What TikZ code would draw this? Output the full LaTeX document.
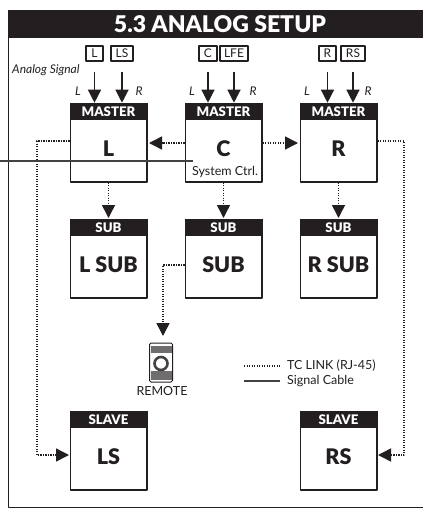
\documentclass[tikz,border=0pt]{standalone}
\usepackage{fontspec}
\setmainfont{Lato}[BoldFont={Lato Black}]
\usetikzlibrary{arrows.meta,calc}
\definecolor{ink}{HTML}{231F20}
\tikzset{
	unitbox/.style={draw=ink,line width=1.5pt,fill=white,minimum width=76.5pt,minimum height=77.5pt,inner sep=0pt},
	hdrbox/.style={fill=ink,text=white,font=\fontsize{13.2}{13.2}\selectfont\bfseries,minimum width=78pt,minimum height=17.5pt,inner sep=0pt},
	unitname/.style={text=ink,font=\fontsize{21.5}{21.5}\selectfont\bfseries,inner sep=0pt},
	inbox/.style={draw=ink,line width=1.2pt,font=\fontsize{12}{12}\selectfont,text=ink,minimum height=15pt,inner sep=0pt},
	chan/.style={text=ink,font=\fontsize{12}{12}\selectfont\itshape,inner sep=0pt},
	note/.style={text=ink,font=\fontsize{12.5}{12.5}\selectfont,inner sep=0pt},
	signal/.style={-{Triangle[length=13pt,width=13pt]},draw=ink,line width=1.3pt},
	tclink/.style={draw=ink,line width=1.5pt,dash pattern=on 1.4pt off 1.1pt},
	tcarrow/.style={tclink,-{Triangle[length=13pt,width=13pt]}},
	cable/.style={draw=ink!85,line width=1.2pt}
}
\begin{document}
\begin{tikzpicture}[x=1pt,y=-1pt,line join=round]
	\useasboundingbox[fill=white] (0,0) rectangle (423,509);
	\draw[draw=ink,line width=1.2pt] (8.5,10) -- (8.5,507.8) -- (423,507.8);
	\node[fill=ink,text=white,font=\fontsize{23}{23}\selectfont\bfseries,minimum width=415pt,minimum height=28pt,inner sep=0pt] (title) at (215.5,24) {\hspace*{9pt}5.3 ANALOG SETUP};
	% units
	\foreach \n/\x/\y/\h/\t in {L/108.5/143/MASTER/L,C/223.5/143/MASTER/C,R/338.5/143/MASTER/R,LSub/108.5/259/SUB/L SUB,CSub/223.5/259/SUB/SUB,RSub/338.5/259/SUB/R SUB,LS/108.5/451/SLAVE/LS,RS/338.5/451/SLAVE/RS}{
		\node[unitbox] (box\n) at (\x,\y) {};
		\node[hdrbox,anchor=north] (hdr\n) at ([yshift=.8pt]box\n.north) {\h};
		\node[unitname] (txt\n) at ([yshift=-6pt]box\n.center) {\t};
	}
	\node[note] (ctrl) at (225,172) {System Ctrl.};
	% inputs
	\foreach \n/\x/\w/\t/\m in {iL/94.5/17/L/L,iLS/122/22/LS/L,iC/208/18/C/C,iLFE/234/28/LFE/C,iR/327.5/17/R/R,iRS/353/24/RS/R}{
		\node[inbox,minimum width=\w pt] (\n) at (\x,53.5) {\t};
		\draw[signal] ([yshift=-10pt]\n.south) -- (\n.south |- hdr\m.north);
	}
	\foreach \n/\x/\t in {cL/78/L,cR/139/R,dL/192/L,dR/253/R,eL/307/L,eR/368/R}
		\node[chan] (\n) at (\x,91) {\t};
	\node[chan,anchor=west] (analog) at (12,70) {Analog Signal};
	% tc link
	\path
	(37,141) coordinate(nwL)
	(37,455) coordinate(swL)
	(404,141) coordinate(nwR)
	(404,455) coordinate(swR)
	(163,265) coordinate(turnSub)
	(163,336) coordinate(remoteIn)
	(0,161) coordinate(cableIn)
	(193,161) coordinate(cableEnd)
	(244,366) coordinate(keyA)
	(280,366) coordinate(keyB)
	(244,381) coordinate(keyC)
	(280,381) coordinate(keyD)
	;
	\draw[tcarrow,shorten >=.5pt] (boxL.west |- nwL) -- (nwL) -- (swL) -- (boxLS.west |- swL);
	\draw[tcarrow,shorten >=.5pt] (boxR.east |- nwR) -- (nwR) -- (swR) -- (boxRS.east |- swR);
	\draw[tcarrow] (boxCSub.west |- turnSub) -- (turnSub) -- (remoteIn);
	\foreach \a/\b in {boxC.west/boxL.east,boxC.east/boxR.west,boxL.south/boxLSub.north,boxC.south/boxCSub.north,boxR.south/boxRSub.north}
		\draw[tcarrow,shorten >=1.5pt] (\a) -- (\b);
	\draw[cable] (cableIn) -- (cableEnd);
	% remote
	\node[draw=ink,line width=1pt,fill=white,rounded corners=1.5pt,minimum width=23pt,minimum height=39pt,inner sep=0pt] (remote) at (161,362.5) {};
	\fill[ink!65] ([shift={(1.5,3)}]remote.north west) rectangle ([shift={(-1.5,10)}]remote.north east);
	\fill[ink!65] ([shift={(1.5,-12)}]remote.south west) rectangle ([shift={(-1.5,-3)}]remote.south east);
	\draw[ink!85,line width=2.6pt,fill=white] ([yshift=-1pt]remote.center) circle (6.5pt);
	\node[note] (remoteName) at (162,391) {REMOTE};
	% key
	\draw[tclink] (keyA) -- (keyB);
	\draw[cable,line width=1.5pt] (keyC) -- (keyD);
	\node[note,anchor=west] (keyLink) at (287,366) {TC LINK (RJ-45)};
	\node[note,anchor=west] (keyCable) at (287,381) {Signal Cable};
\end{tikzpicture}
\end{document}
